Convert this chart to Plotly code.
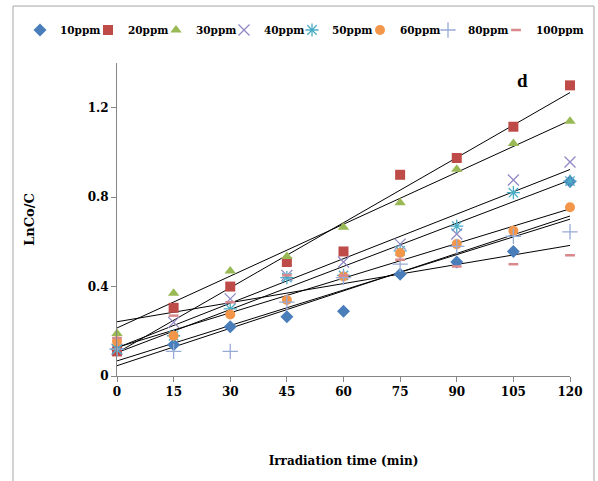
import numpy as np
import plotly.graph_objects as go

time_min = [0, 15, 30, 45, 60, 75, 90, 105, 120]
series_names = ["10ppm", "20ppm", "30ppm", "40ppm", "50ppm", "60ppm", "80ppm", "100ppm"]
ppm10 = [0.12, 0.14, 0.22, 0.265, 0.29, 0.455, 0.51, 0.557, 0.87]
ppm20 = [0.11, 0.305, 0.40, 0.51, 0.557, 0.90, 0.975, 1.115, 1.30]
ppm30 = [0.19, 0.37, 0.47, 0.535, 0.665, 0.775, 0.925, 1.04, 1.14]
ppm40 = [0.12, 0.24, 0.345, 0.45, 0.51, 0.59, 0.635, 0.877, 0.957]
ppm50 = [0.12, 0.18, 0.30, 0.44, 0.45, 0.56, 0.67, 0.82, 0.872]
ppm60 = [0.155, 0.18, 0.275, 0.34, 0.445, 0.55, 0.59, 0.65, 0.755]
ppm80 = [0.12, 0.11, 0.11, 0.33, 0.44, 0.50, 0.58, 0.625, 0.645]
ppm100 = [0.17, 0.27, 0.33, 0.45, 0.45, 0.52, 0.49, 0.50, 0.54]
y_tickvals = [0, 0.4, 0.8, 1.2]
y_ticktext = ["0", "0.4", "0.8", "1.2"]
x_tickvals = [0, 15, 30, 45, 60, 75, 90, 105, 120]

series_values = [ppm10, ppm20, ppm30, ppm40, ppm50, ppm60, ppm80, ppm100]
styles = [
    dict(symbol="diamond", color="#4a7ebb", size=10, line=dict(width=0)),
    dict(symbol="square", color="#be4b48", size=10, line=dict(width=0)),
    dict(symbol="triangle-up", color="#98b954", size=10, line=dict(width=0)),
    dict(symbol="x-thin-open", color="#9088c4", size=11, line=dict(width=1.3, color="#9088c4")),
    dict(symbol="asterisk-open", color="#4bacc6", size=11, line=dict(width=1.3, color="#4bacc6")),
    dict(symbol="circle", color="#f3964a", size=10, line=dict(width=0)),
    dict(symbol="cross-thin-open", color="#97abd6", size=11, line=dict(width=1.3, color="#97abd6")),
    dict(symbol="line-ew-open", color="#d9898c", size=7, line=dict(width=2.5, color="#d9898c")),
]

FONT = "DejaVu Serif"
fig = go.Figure()

# linear trendlines (least-squares fit of each series)
x_arr = np.array(time_min, dtype=float)
x_line = np.array([x_arr.min(), x_arr.max()])
for vals in series_values:
    slope, intercept = np.polyfit(x_arr, np.array(vals), 1)
    fig.add_trace(go.Scatter(x=x_line, y=slope * x_line + intercept, mode="lines",
                             line=dict(color="black", width=1), showlegend=False,
                             hoverinfo="skip"))

legend_layouts = {}
for i, (name, vals, st) in enumerate(zip(series_names, series_values, styles)):
    lid = "legend" if i == 0 else f"legend{i + 1}"
    fig.add_trace(go.Scatter(x=time_min, y=vals, mode="markers", name=name,
                             marker=st, cliponaxis=False, legend=lid))
    marker_px = 40 + 68 * i
    legend_layouts[lid] = dict(
        orientation="h", xref="container", yref="container",
        x=(marker_px - 20) / 598, xanchor="left", y=1 - 30 / 481, yanchor="middle",
        font=dict(family=FONT, size=10.5, color="black", weight="bold"),
        bgcolor="rgba(0,0,0,0)", borderwidth=0)

# chart border (Excel chart area)
fig.add_shape(type="path", xref="paper", yref="paper",
              path="M -0.2296,-0.40 L -0.2296,1.182 L 1.053,1.182 L 1.053,-0.40",
              line=dict(color="#a6a6a6", width=1))

fig.add_annotation(text="<b>d</b>", xref="paper", yref="paper", x=0.896, y=0.945,
                   xanchor="center", yanchor="middle",
                   showarrow=False, font=dict(family="Liberation Serif", size=19, color="black"))

fig.update_layout(
    width=598, height=481,
    margin=dict(l=117, r=28, t=63, b=105, autoexpand=False),
    paper_bgcolor="white", plot_bgcolor="white",
    font=dict(family=FONT, color="black"),
    xaxis=dict(range=[0, 120], tickvals=x_tickvals, showgrid=False, zeroline=False,
               showline=True, linecolor="#868686", linewidth=1, automargin=False,
               ticks="outside", ticklen=5, tickcolor="#868686",
               tickfont=dict(family=FONT, size=12, weight="bold"),
               title=dict(text="<b>Irradiation time (min)</b>", standoff=58,
                          font=dict(family=FONT, size=12))),
    yaxis=dict(range=[0, 1.4], tickvals=y_tickvals, ticktext=y_ticktext, showgrid=False,
               zeroline=False, showline=True, linecolor="#868686", linewidth=1,
               automargin=False,
               ticks="outside", ticklen=5, tickcolor="#868686",
               tickfont=dict(family=FONT, size=12, weight="bold"),
               title=dict(text="<b>LnCo/C</b>", standoff=50,
                          font=dict(family=FONT, size=13))),
    **legend_layouts,
)

fig.write_html("out.html", config={"displayModeBar": False},
               post_script="document.body.style.margin='0px';")
